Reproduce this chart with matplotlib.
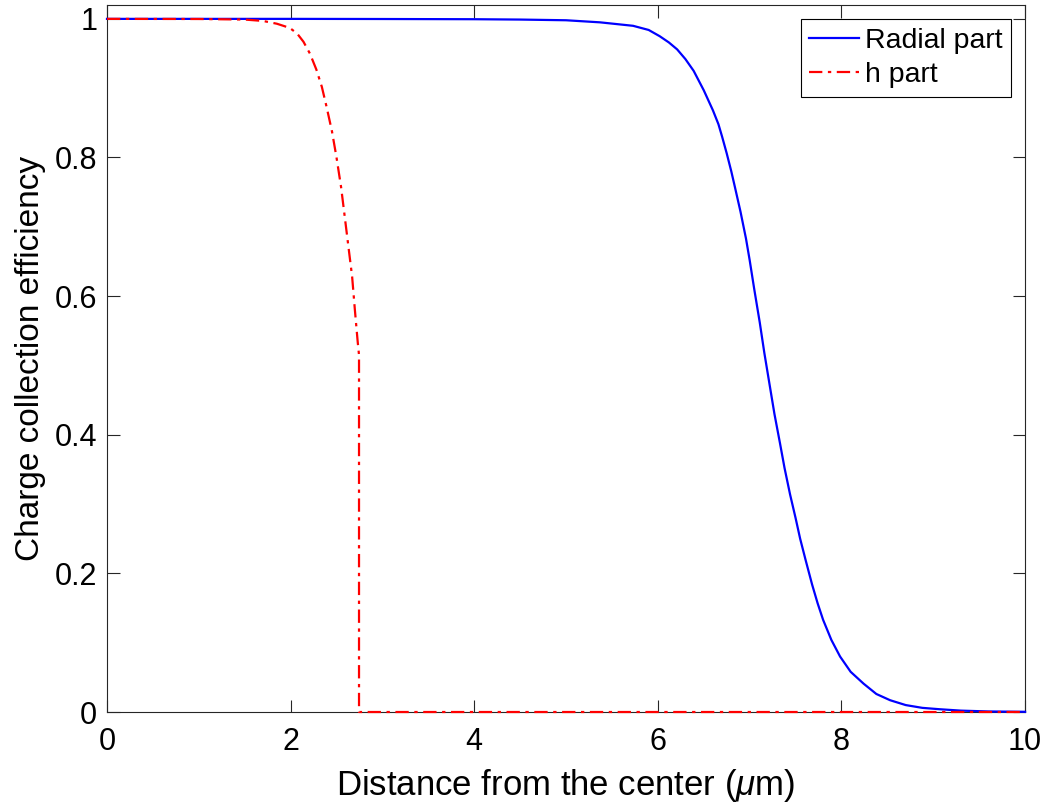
import numpy as np
import matplotlib.pyplot as plt

# values
radial_x = [0.0, 1.0, 2.0, 3.0, 4.0, 4.5, 5.0, 5.37, 5.73, 5.90, 6.02, 6.12, 6.21, 6.30,
            6.39, 6.50, 6.60, 6.66, 6.70, 6.75, 6.80, 6.84, 6.90, 6.96, 7.00, 7.05,
            7.11, 7.16, 7.22, 7.27, 7.33, 7.38, 7.44, 7.50, 7.55, 7.61, 7.68, 7.74,
            7.80, 7.89, 7.985, 8.10, 8.24, 8.38, 8.53, 8.70, 8.88, 9.07, 9.30, 9.60, 10.0]
radial_y = [1.0, 1.0, 1.0, 0.9998, 0.9995, 0.999, 0.998, 0.995, 0.990, 0.984, 0.975,
            0.966, 0.956, 0.942, 0.925, 0.897, 0.868, 0.848, 0.830, 0.806, 0.780,
            0.757, 0.722, 0.683, 0.652, 0.610, 0.562, 0.518, 0.470, 0.430, 0.388,
            0.352, 0.314, 0.280, 0.250, 0.219, 0.184, 0.157, 0.133, 0.104, 0.080,
            0.058, 0.041, 0.026, 0.017, 0.010, 0.006, 0.004, 0.002, 0.0008, 0.0003]

h_x = [0.0, 1.0, 1.5, 1.70, 1.85, 1.99, 2.07, 2.14, 2.21, 2.28, 2.34, 2.39, 2.45, 2.50,
       2.55, 2.59, 2.63, 2.67, 2.70, 2.73, 2.745, 2.745, 3.0, 5.0, 8.0, 10.0]
h_y = [1.0, 0.9998, 0.999, 0.997, 0.993, 0.987, 0.979, 0.967, 0.950, 0.927, 0.902,
       0.874, 0.838, 0.800, 0.757, 0.714, 0.671, 0.628, 0.580, 0.535, 0.515, 0.0,
       0.0, 0.0, 0.0, 0.0]

plt.rcParams['font.family'] = ['Liberation Sans', 'DejaVu Sans']
plt.rcParams['mathtext.fontset'] = 'custom'
plt.rcParams['mathtext.it'] = 'Liberation Sans:italic'

fig = plt.figure(figsize=(10.46, 8.08), dpi=100)
ax = fig.add_axes([0.1023, 0.1188, 0.8777, 0.875])

ax.plot(radial_x, radial_y, color='blue', lw=1.6, label='Radial part', zorder=3, clip_on=False)
ax.plot(h_x, h_y, color='red', lw=1.6, ls=(0, (6, 2.5, 1.5, 2.5)), label='h part',
        zorder=3, clip_on=False)

ax.set_xlim(0, 10)
ax.set_ylim(0, 1.02)
ax.set_xticks([0, 2, 4, 6, 8, 10])
ax.set_yticks([0, 0.2, 0.4, 0.6, 0.8, 1.0])
ax.set_yticklabels(['0', '0.2', '0.4', '0.6', '0.8', '1'])
ax.tick_params(direction='in', top=True, right=True, length=9, width=0.8,
               labelsize=22, color='#262626', pad=11)
ax.tick_params(axis='y', pad=7)
for s in ax.spines.values():
    s.set_color('#262626')
    s.set_linewidth(0.8)

ax.set_xlabel(r'Distance from the center ($\mu$m)', fontsize=25, labelpad=7)
ax.set_ylabel('Charge collection efficiency', fontsize=24, labelpad=6)

leg = ax.legend(loc='upper right', fontsize=20.5, fancybox=False, framealpha=1,
                edgecolor='black', borderpad=0.3, handlelength=1.75, handletextpad=0.2,
                labelspacing=0.3, borderaxespad=0.5)
leg.get_frame().set_linewidth(0.8)

fig.savefig('out.png', dpi=100)
